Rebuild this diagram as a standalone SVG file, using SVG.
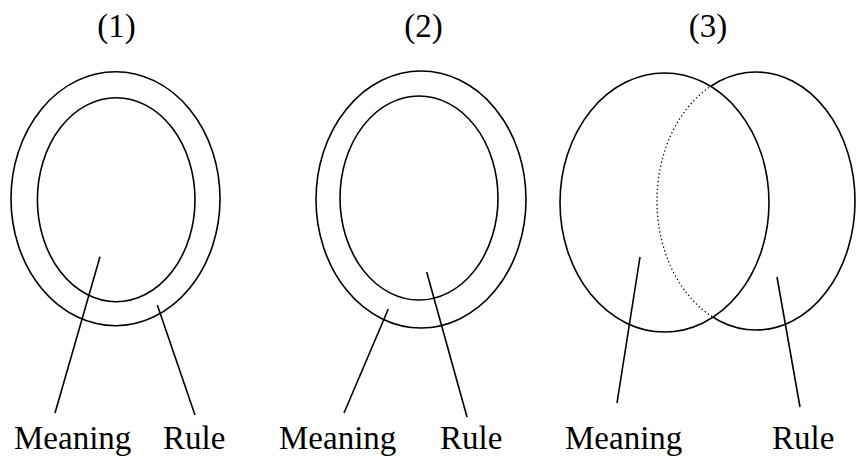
<svg xmlns="http://www.w3.org/2000/svg" width="857" height="458" viewBox="0 0 857 458">
<style>
.s{fill:none;stroke:#000;stroke-width:1.6}
.d{fill:none;stroke:#000;stroke-width:1.3;stroke-dasharray:1.3 2.6}
.t{font-family:"Liberation Serif","Times New Roman",serif;font-size:33px;fill:#000}
</style>
<defs>
<clipPath id="outL"><path clip-rule="evenodd" d="M0 0H857V458H0Z M560 202.5A104.5 129.5 0 1 0 769 202.5A104.5 129.5 0 1 0 560 202.5Z"/></clipPath>
<clipPath id="inL"><ellipse cx="664.5" cy="202.5" rx="104.5" ry="129.5"/></clipPath>
</defs>
<g id="title1"><text class="t" x="116.5" y="37" text-anchor="middle">(1)</text></g>
<g id="title2"><text class="t" x="423.5" y="37" text-anchor="middle">(2)</text></g>
<g id="title3"><text class="t" x="708" y="37" text-anchor="middle">(3)</text></g>
<g id="d1-rule"><ellipse class="s" cx="115.5" cy="198.7" rx="104.5" ry="127"/></g>
<g id="d1-meaning"><ellipse class="s" cx="116.2" cy="199.7" rx="78.8" ry="102"/></g>
<g id="d2-meaning"><ellipse class="s" cx="421" cy="199.5" rx="105" ry="128.5"/></g>
<g id="d2-rule"><ellipse class="s" cx="419" cy="198" rx="79" ry="102"/></g>
<g id="d3-meaning"><ellipse class="s" cx="664.5" cy="202.5" rx="104.5" ry="129.5"/></g>
<g id="d3-rule">
<ellipse class="s" cx="756" cy="201" rx="99" ry="129" clip-path="url(#outL)"/>
<ellipse class="d" cx="756" cy="201" rx="99" ry="129" clip-path="url(#inL)"/>
</g>
<g id="connectors" class="s">
<line x1="100" y1="256.7" x2="55" y2="413"/>
<line x1="157.3" y1="305" x2="195" y2="415"/>
<line x1="388.3" y1="309" x2="344" y2="413"/>
<line x1="426.7" y1="272" x2="467" y2="417"/>
<line x1="640" y1="257" x2="617" y2="403"/>
<line x1="777" y1="277" x2="800" y2="407"/>
</g>
<g id="labels">
<text class="t" x="14" y="449">Meaning</text>
<text class="t" x="163" y="449">Rule</text>
<text class="t" x="279" y="449">Meaning</text>
<text class="t" x="440" y="449">Rule</text>
<text class="t" x="565" y="449">Meaning</text>
<text class="t" x="772" y="449">Rule</text>
</g>
</svg>
